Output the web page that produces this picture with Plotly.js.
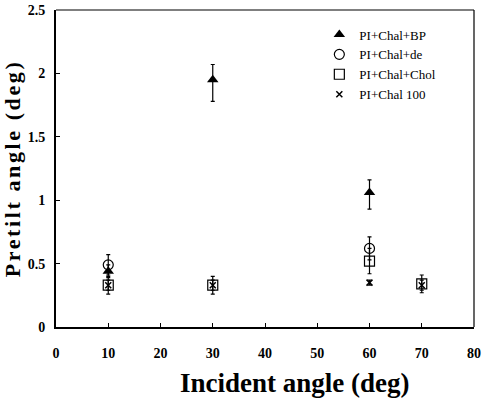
<!DOCTYPE html>
<html><head><meta charset="utf-8">
<script src="https://cdn.plot.ly/plotly-3.0.1.min.js"></script>
<style>body{margin:0;background:#fff}#c{width:484px;height:400px}
.ytitle{letter-spacing:2.6px}</style>
</head><body><div id="c"></div>
<script>
var names = ["PI+Chal+BP", "PI+Chal+de", "PI+Chal+Chol", "PI+Chal 100"];
var bpX = [10, 30, 60], bpY = [0.44, 1.95, 1.06], bpErrUp = [0.05, 0.12, 0.1], bpErrDown = [0.05, 0.17, 0.13];
var deX = [10, 60], deY = [0.49, 0.62], deErrUp = [0.08, 0.09], deErrDown = [0.08, 0.09];
var cholX = [10, 30, 60, 70], cholY = [0.33, 0.33, 0.52, 0.34], cholErrUp = [0.07, 0.07, 0.1, 0.07], cholErrDown = [0.07, 0.07, 0.1, 0.07];
var c100X = [10, 30, 60, 70], c100Y = [0.33, 0.33, 0.35, 0.33], c100ErrUp = [0.04, 0.04, 0.02, 0.04], c100ErrDown = [0.04, 0.04, 0.02, 0.04];
var xTicks = [0, 10, 20, 30, 40, 50, 60, 70, 80];
var yTicks = [0, 0.5, 1, 1.5, 2, 2.5];
var xTitle = "Incident angle (deg)";
var yTitle = "Pretilt angle (deg)";

var serif = "Liberation Serif, Times New Roman, serif";
function tr(name, x, y, eu, ed, sym, size, lw) {
  return {type: "scatter", mode: "markers", name: name, x: x, y: y,
    error_y: {type: "data", symmetric: false, array: eu, arrayminus: ed, visible: true, color: "#000", thickness: 1.2, width: 2},
    marker: {symbol: sym, size: size, color: "#000", line: {color: "#000", width: lw}}};
}
var data = [
  tr(names[0], bpX, bpY, bpErrUp, bpErrDown, "triangle-up", 10, 0),
  tr(names[1], deX, deY, deErrUp, deErrDown, "circle-open", 10, 1.2),
  tr(names[2], cholX, cholY, cholErrUp, cholErrDown, "square-open", 10, 1.2),
  tr(names[3], c100X, c100Y, c100ErrUp, c100ErrDown, "x-thin-open", 6, 1.5)
];
var layout = {
  width: 484, height: 400,
  margin: {l: 56, r: 10, t: 10, b: 73},
  paper_bgcolor: "#fff", plot_bgcolor: "#fff",
  font: {family: serif, color: "#000"},
  showlegend: true,
  legend: {x: 0.63, y: 0.97, xanchor: "left", yanchor: "top", bgcolor: "rgba(0,0,0,0)",
    font: {family: serif, size: 13, color: "#000"}, itemwidth: 30},
  xaxis: {range: [0, 80], tickvals: xTicks, ticktext: xTicks.map(String),
    showgrid: false, zeroline: false, showline: true, linewidth: 2, linecolor: "#000",
    ticks: "inside", ticklen: 4, tickcolor: "#000", ticklabelstandoff: 12,
    tickfont: {family: serif, size: 14, weight: "bold"}},
  yaxis: {range: [0, 2.5], tickvals: yTicks, ticktext: yTicks.map(String),
    showgrid: false, zeroline: false, showline: true, linewidth: 2, linecolor: "#000",
    ticks: "inside", ticklen: 4, tickcolor: "#000", ticklabelstandoff: 6,
    tickfont: {family: serif, size: 14, weight: "bold"},
    title: {text: yTitle, font: {family: serif, size: 22, weight: "bold"}, standoff: 6}},
  annotations: [
    {text: xTitle, xref: "paper", yref: "paper", x: 0.572, y: -0.178, xanchor: "center", yanchor: "middle",
     showarrow: false, font: {family: serif, size: 27, weight: "bold", color: "#000"}}
  ],
  shapes: [
    {type: "line", xref: "paper", yref: "paper", x0: 0, x1: 1, y0: 1, y1: 1, line: {color: "#000", width: 1.2}},
    {type: "line", xref: "paper", yref: "paper", x0: 1, x1: 1, y0: 0, y1: 1, line: {color: "#000", width: 1.2}}
  ]
};
Plotly.newPlot("c", data, layout, {displayModeBar: false, staticPlot: true});
</script></body></html>
